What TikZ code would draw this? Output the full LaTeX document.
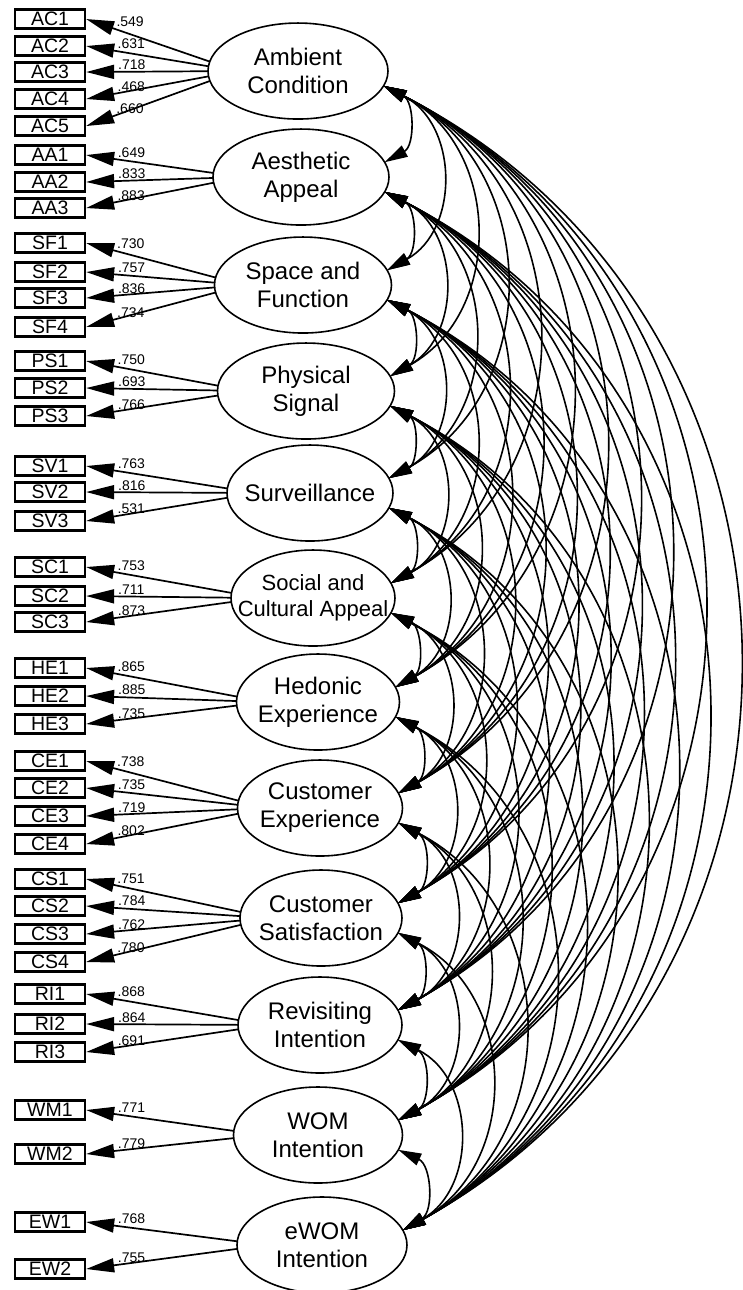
\documentclass[tikz,border=0pt]{standalone}
\usepackage{fontspec}
\setmainfont{Liberation Sans}
\usetikzlibrary{arrows.meta,calc,shapes.geometric,backgrounds}

\begin{document}
\begin{tikzpicture}[
    x=0.1pt, y=-0.1pt,
    lv/.style={ellipse, draw, fill=white, line width=0.16pt, minimum height=9.6pt, inner sep=0pt},
    lvtext/.style={align=center, inner sep=0pt},
    ov/.style={rectangle, draw, line width=0.23pt, minimum width=7pt, minimum height=1.9pt, inner sep=0pt, font=\fontsize{1.95}{1.95}\selectfont},
    ld/.style={line width=0.17pt, -{Triangle[length=2.8pt,width=1.4pt]}},
    est/.style={font=\fontsize{1.4}{1.4}\selectfont, inner sep=0pt, anchor=south west},
    cov/.style={line width=0.16pt, {Triangle[length=2.3pt,width=1.25pt]}-{Triangle[length=2.3pt,width=1.25pt]}, bend left=62, looseness=1.16}
  ]
    \useasboundingbox (0,0) rectangle (742,1290);

    % latent factors (x, y, width, font size, line skip)
    \foreach \n/\x/\y/\w/\fs/\bs/\t in {
      1/298/71/180/2.4/2.8/{Ambient\\Condition},
      2/301/177/176/2.4/2.8/{Aesthetic\\Appeal},
      3/303/285/177/2.4/2.8/{Space and\\Function},
      4/306/391/177/2.4/2.8/{Physical\\Signal},
      5/310/493/166/2.4/2.8/{Surveillance},
      6/313/598/164/2.2/2.6/{Social and\\Cultural Appeal},
      7/318/702/163/2.4/2.8/{Hedonic\\Experience},
      8/320/808/165/2.4/2.8/{Customer\\Experience},
      9/321/918/162/2.4/2.8/{Customer\\Satisfaction},
      10/320/1025/164/2.4/2.8/{Revisiting\\Intention},
      11/318/1135/169/2.4/2.8/{WOM\\Intention},
      12/322/1245/170/2.4/2.8/{eWOM\\Intention}} {
      \node[lv, minimum width=\w*0.1pt] (f\n) at (\x,\y) {};
      \node[lvtext, font=\fontsize{\fs}{\bs}\selectfont] (t\n) at (f\n) {\t};
      \coordinate (c\n) at ($(f\n.west)+(30,0)$);
      % attachment points for the covariances
      \coordinate (lo\n) at ($(f\n)+(18:{\w/2} and 48)$);
      \coordinate (up\n) at ($(f\n)+(-18:{\w/2} and 48)$);
    }

    % indicators with standardized loadings
    \foreach \f/\n/\y/\v in {
      1/AC1/19/.549, 1/AC2/46/.631, 1/AC3/72/.718, 1/AC4/99/.468, 1/AC5/126/.660,
      2/AA1/155/.649, 2/AA2/182/.833, 2/AA3/208/.883,
      3/SF1/243/.730, 3/SF2/272/.757, 3/SF3/298/.836, 3/SF4/327/.734,
      4/PS1/361/.750, 4/PS2/388/.693, 4/PS3/416/.766,
      5/SV1/466/.763, 5/SV2/492/.816, 5/SV3/521/.531,
      6/SC1/567/.753, 6/SC2/596/.711, 6/SC3/622/.873,
      7/HE1/668/.865, 7/HE2/696/.885, 7/HE3/724/.735,
      8/CE1/761/.738, 8/CE2/788/.735, 8/CE3/816/.719, 8/CE4/844/.802,
      9/CS1/879/.751, 9/CS2/906/.784, 9/CS3/934/.762, 9/CS4/962/.780,
      10/RI1/994/.868, 10/RI2/1024/.864, 10/RI3/1052/.691,
      11/WM1/1110/.771, 11/WM2/1154/.779,
      12/EW1/1222/.768, 12/EW2/1269/.755} {
      \node[ov] (\n) at (50,\y) {\n};
      \begin{scope}[on background layer]
        \draw[ld] (c\f) -- (\n.east);
      \end{scope}
      \node[est] (l\n) at ($(\n.east)!3pt!(c\f)$) {\v};
    }

    % covariances between all factors
    \foreach \i in {1,...,11} {
      \foreach \j in {\i,...,12} {
        \ifnum\i<\j
          \draw[cov] (lo\i) to (up\j);
        \fi
      }
    }
  \end{tikzpicture}
\end{document}
